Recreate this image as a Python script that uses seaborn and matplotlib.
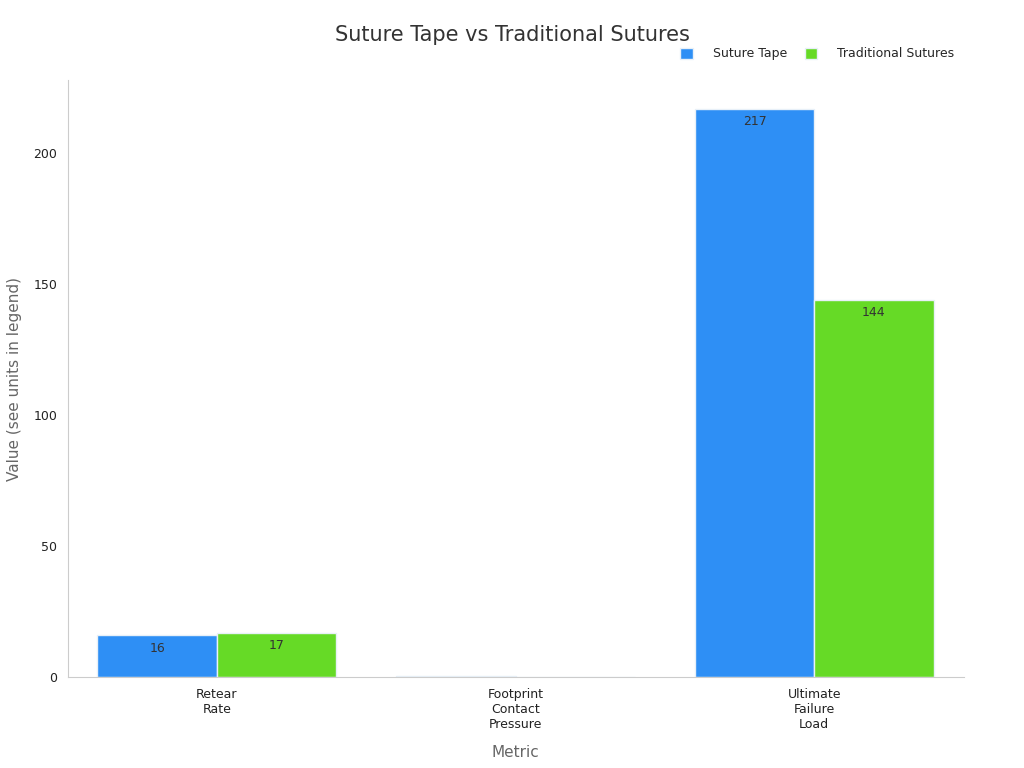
import matplotlib.pyplot as plt
import pandas as pd
import seaborn as sns

# Data
metrics = ['Retear\nRate', 'Footprint\nContact\nPressure', 'Ultimate\nFailure\nLoad']
suture_tape = [16, 0.4, 217]
traditional = [17, 0.3, 144]
series = ['Suture Tape', 'Traditional Sutures']
colors = ['#2E8FF5', '#66DA26']

df = pd.DataFrame({
    'Metric': metrics * 2,
    'Value': suture_tape + traditional,
    'Series': [series[0]] * 3 + [series[1]] * 3,
})

sns.set_theme(style='white')
plt.rcParams['font.family'] = ['DejaVu Sans']

fig, ax = plt.subplots(figsize=(10.24, 7.68), dpi=100)
fig.subplots_adjust(left=0.066, right=0.941, top=0.896, bottom=0.118)

sns.barplot(data=df, x='Metric', y='Value', hue='Series', palette=colors,
            saturation=1, width=0.8, edgecolor='#e8f0f8', linewidth=1,
            ax=ax, legend=True)

# value labels just inside the top of each bar
for cont in ax.containers:
    labels = ['' if v < 1 else f'{v:g}' for v in cont.datavalues]
    ax.bar_label(cont, labels=labels, padding=-14, fontsize=9, color='#333333')

ax.set_xlim(-0.5, 2.5)
ax.set_ylim(0, 228)
ax.set_yticks([0, 50, 100, 150, 200])
ax.tick_params(axis='both', labelsize=9, colors='#222222', length=4, width=0.8)
ax.tick_params(axis='both', color='#888888')
ax.set_xlabel('Metric', fontsize=11, color='#666666', labelpad=10)
ax.set_ylabel('Value (see units in legend)', fontsize=11, color='#666666', labelpad=8)

for s in ['top', 'right']:
    ax.spines[s].set_visible(False)
for s in ['left', 'bottom']:
    ax.spines[s].set_color('#cccccc')
    ax.spines[s].set_linewidth(0.8)

fig.suptitle('Suture Tape vs Traditional Sutures', fontsize=15, color='#333333', x=0.5, y=0.968)

handles, lbls = ax.get_legend_handles_labels()
ax.legend(handles, lbls, loc='lower right', bbox_to_anchor=(0.998, 1.02), ncol=2,
          frameon=False, fontsize=9, handlelength=1.0, handleheight=1.0,
          handletextpad=1.6, columnspacing=1.4, borderaxespad=0.2)

fig.savefig('out.png', dpi=100)
